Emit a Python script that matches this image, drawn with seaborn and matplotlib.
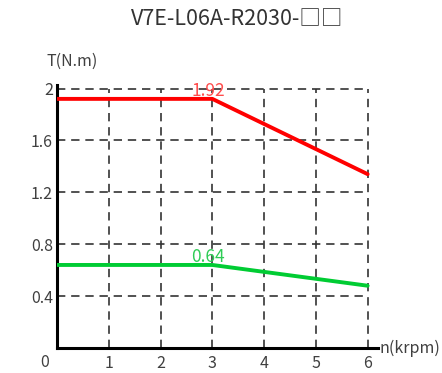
import matplotlib
matplotlib.use("Agg")
import matplotlib.pyplot as plt
import seaborn as sns
import pandas as pd

# Torque-speed curve data
speed_krpm = [0, 3, 6]
peak_torque = [1.92, 1.92, 1.34]
rated_torque = [0.64, 0.64, 0.48]
x_ticks = [1, 2, 3, 4, 5, 6]
y_ticks = [0.4, 0.8, 1.2, 1.6, 2.0]
y_tick_labels = ["0.4", "0.8", "1.2", "1.6", "2"]
title = "V7E-L06A-R2030-□□"

sns.set_theme(style="white")
plt.rcParams["font.family"] = ["Noto Sans CJK JP", "DejaVu Sans"]

fig = plt.figure(figsize=(4.42, 3.73), dpi=100)
ax = fig.add_axes([57 / 442, 25 / 373, 321 / 442, 263 / 373])
ax.set_xlim(0, 6.2)
ax.set_ylim(0, 2.0 * 263 / 259.5)

# dashed grid, limited to the data range
ax.vlines(x_ticks, 0, 2.0, colors="#333333", linestyles=(0, (5, 3.5)), linewidth=1.2, zorder=1)
ax.hlines(y_ticks, 0, 6, colors="#333333", linestyles=(0, (5, 3.5)), linewidth=1.2, zorder=1)

df = pd.DataFrame({"n": speed_krpm, "peak": peak_torque, "rated": rated_torque})
sns.lineplot(data=df, x="n", y="peak", color="#ff0000", linewidth=2.8, ax=ax, zorder=3)
sns.lineplot(data=df, x="n", y="rated", color="#00cc33", linewidth=2.8, ax=ax, zorder=3)

ax.text(2.92, peak_torque[1] + 0.02, f"{peak_torque[1]:.2f}", color="#ff4d4d", fontsize=12.5,
        ha="center", va="baseline", zorder=4)
ax.text(2.92, rated_torque[1] + 0.02, f"{rated_torque[1]:.2f}", color="#2ecc55", fontsize=12.5,
        ha="center", va="baseline", zorder=4)

for s in ["top", "right"]:
    ax.spines[s].set_visible(False)
for s in ["left", "bottom"]:
    ax.spines[s].set_color("black")
    ax.spines[s].set_linewidth(2.2)

ax.set_xticks(x_ticks)
ax.set_xticklabels([str(v) for v in x_ticks])
ax.set_yticks(y_ticks)
ax.set_yticklabels(y_tick_labels)
ax.tick_params(axis="both", labelsize=11.5, colors="#404040", length=0)
ax.tick_params(axis="x", pad=5)
ax.tick_params(axis="y", pad=3)
ax.set_xlabel("")
ax.set_ylabel("")

# corner origin label and axis titles
ax.text(-0.23, -0.115, "0", fontsize=11.5, color="#404040", ha="center", va="center",
        clip_on=False)
ax.text(6.22, 0.0, "n(krpm)", fontsize=11.5, color="#404040", ha="left", va="center",
        clip_on=False)
ax.text(0.29, 2.21, "T(N.m)", fontsize=11.5, color="#404040", ha="center", va="center",
        clip_on=False)

fig.text(237 / 442, 1 - 19 / 373, title, fontsize=15.5, color="#333333", ha="center", va="center")

fig.savefig("out.png", dpi=100)
